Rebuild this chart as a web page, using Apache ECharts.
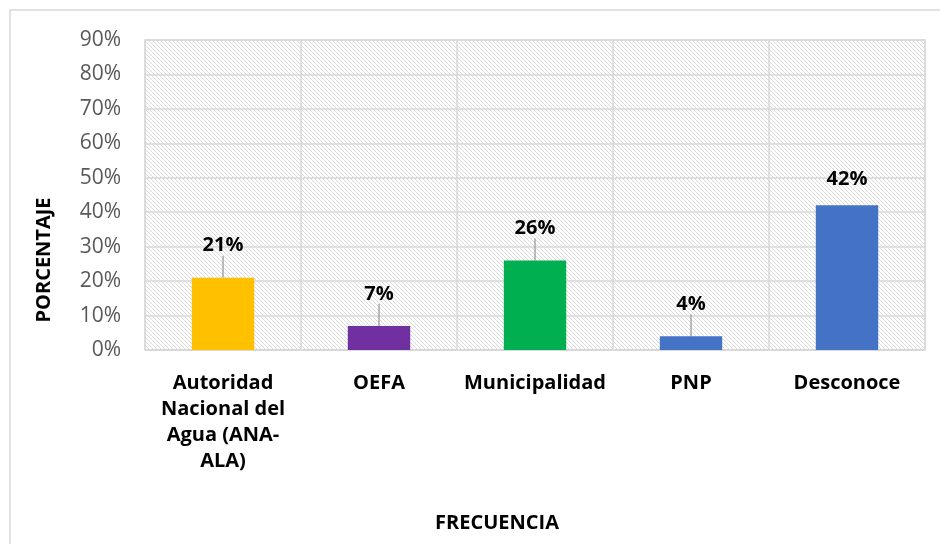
<!DOCTYPE html>
<html>
<head>
<meta charset="utf-8">
<script src="https://cdn.jsdelivr.net/npm/echarts@6/dist/echarts.min.js"></script>
<style>html,body{margin:0;padding:0;background:#fff;}#c{width:940px;height:544px;}</style>
</head>
<body>
<div id="c"></div>
<script>
const categories = ['Autoridad Nacional del Agua (ANA-ALA)', 'OEFA', 'Municipalidad', 'PNP', 'Desconoce'];
const tickLabels = ['Autoridad\nNacional del\nAgua (ANA-\nALA)', 'OEFA', 'Municipalidad', 'PNP', 'Desconoce'];
const values = [21, 7, 26, 4, 42];
const colors = ['#FFC000', '#7030A0', '#00B050', '#4472C4', '#4472C4'];
const yTicks = [0, 10, 20, 30, 40, 50, 60, 70, 80, 90];

const pc = document.createElement('canvas');
pc.width = 4; pc.height = 4;
const px = pc.getContext('2d');
px.fillStyle = '#ffffff'; px.fillRect(0,0,4,4);
px.fillStyle = '#d9d9d9';
for (let i = 0; i < 4; i++) px.fillRect(i, i, 1, 1);

const chart = echarts.init(document.getElementById('c'), null, {renderer: 'canvas'});
const font = '"Open Sans", sans-serif';
chart.setOption({
  animation: false,
  grid: {left: 145, right: 15, top: 40, bottom: 194, show: true,
    backgroundColor: {image: pc, repeat: 'repeat'}, borderColor: '#d9d9d9', borderWidth: 1.5},
  xAxis: {
    type: 'category', data: categories,
    axisLine: {lineStyle: {color: '#d9d9d9', width: 1.5}},
    axisTick: {show: false},
    splitLine: {show: true, lineStyle: {color: '#d9d9d9', width: 1.5}},
    axisLabel: {interval: 0, margin: 20, fontFamily: font, fontWeight: 'bold', fontSize: 20, color: '#000', lineHeight: 26,
      formatter: (v, i) => tickLabels[i]}
  },
  yAxis: {
    type: 'value', min: yTicks[0], max: yTicks[yTicks.length-1], interval: 10,
    axisLine: {show: false}, axisTick: {show: false},
    splitLine: {lineStyle: {color: '#d9d9d9', width: 1.5}},
    axisLabel: {margin: 24, fontFamily: font, fontSize: 21, color: '#595959', formatter: v => v + '%'}
  },
  series: [{
    type: 'bar', barWidth: '40%',
    data: values.map((v, i) => ({value: v, itemStyle: {color: colors[i]},
      labelLine: {show: i !== 4}})),
    label: {show: true, position: 'top', distance: 2, fontFamily: font, fontWeight: 'bold', fontSize: 20, color: '#000',
      formatter: p => p.value + '%'},
    labelLayout: p => ({dy: p.dataIndex === 4 ? -14 : -20}),
    labelLine: {show: true, lineStyle: {color: '#a6a6a6', width: 1.5}}
  }],
  graphic: [
    {type: 'rect', shape: {x: 10, y: 10, width: 960, height: 560}, style: {fill: 'none', stroke: '#d9d9d9', lineWidth: 1.5}, silent: true},
    {type: 'text', x: 44, y: 260, rotation: Math.PI/2, style: {text: 'PORCENTAJE', font: 'bold 20px ' + font, fill: '#000', align: 'center', verticalAlign: 'middle'}},
    {type: 'text', x: 497, y: 523, style: {text: 'FRECUENCIA', font: 'bold 20px ' + font, fill: '#000', align: 'center', verticalAlign: 'middle'}}
  ]
});
</script>
</body>
</html>
